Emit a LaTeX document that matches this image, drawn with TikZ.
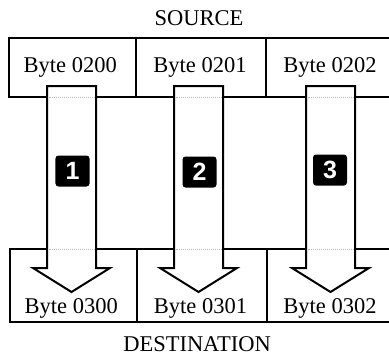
\documentclass[tikz,border=0pt]{standalone}
\usepackage{fontspec}
\setmainfont{Liberation Serif}
\newfontfamily\badgefont{Liberation Sans}
\usetikzlibrary{calc}
\begin{document}
\begin{tikzpicture}[x=1bp,y=-1bp,
  cell/.style={draw, line width=2bp, rectangle, inner sep=0pt, outer sep=0pt},
  lbl/.style={inner sep=0pt, anchor=base, font=\fontsize{22.5bp}{27bp}\selectfont},
  badge/.style={fill=black, rounded corners=3bp, minimum width=34bp, minimum height=31bp, inner sep=0pt,
     text=white, font=\badgefont\bfseries\fontsize{25bp}{25bp}\selectfont},
  faint/.style={draw=gray!55, line width=1bp, densely dotted},
  bigarrow/.pic={
    \draw[line width=2bp, fill=white, line join=miter]
      (-24.5,0) -- (24.5,0) -- (24.5,182) -- (38.5,182) -- (0,206) -- (-38.5,182) -- (-24.5,182) -- cycle;
  }]
\useasboundingbox (0,0) rectangle (389,356);

% source row
\node[cell, minimum width=126.5bp, minimum height=59.5bp] (s0) at (72.75,67.25) {};
\node[cell, minimum width=130bp, minimum height=59.5bp] (s1) at (201,67.25) {};
\node[cell, minimum width=128bp, minimum height=59.5bp] (s2) at (330,67.25) {};
% destination row
\node[cell, minimum width=126.5bp, minimum height=73bp] (d0) at (73.75,285.5) {};
\node[cell, minimum width=130bp, minimum height=73bp] (d1) at (202,285.5) {};
\node[cell, minimum width=128bp, minimum height=73bp] (d2) at (331,285.5) {};

% labels
\node[lbl] (src) at (199,25) {SOURCE};
\node[lbl] (dst) at (197,351.5) {DESTINATION};
\node[lbl] (t0) at ($(s0.south)+(-2.5,-25)$) {Byte 0200};
\node[lbl] (t1) at ($(s1.south)+(-1,-25)$) {Byte 0201};
\node[lbl] (t2) at ($(s2.south)+(0,-25)$) {Byte 0202};
\node[lbl] (u0) at ($(d0.south)+(-2.5,-9)$) {Byte 0300};
\node[lbl] (u1) at ($(d1.south)+(-1.5,-9)$) {Byte 0301};
\node[lbl] (u2) at ($(d2.south)+(-1,-9)$) {Byte 0302};

% arrows
\coordinate (a0) at ($(s0.south)+(-1.25,-11)$);
\coordinate (a1) at ($(s1.south)+(-2.5,-11)$);
\coordinate (a2) at ($(s2.south)+(0.5,-11)$);
\pic at (a0) {bigarrow};
\pic at (a1) {bigarrow};
\pic at (a2) {bigarrow};

% faint box edges seen through the arrows
\foreach \a in {a0,a1,a2}{
  \draw[faint] ($(\a)+(-23,11)$) -- ($(\a)+(23,11)$);
  \draw[faint] ($(\a)+(-23,163)$) -- ($(\a)+(23,163)$);
}

% step badges
\node[badge] (b1) at ($(a0)+(1,85)$) {1};
\node[badge] (b2) at ($(a1)+(1,86)$) {2};
\node[badge] (b3) at ($(a2)+(-0.5,84)$) {3};
\end{tikzpicture}
\end{document}
